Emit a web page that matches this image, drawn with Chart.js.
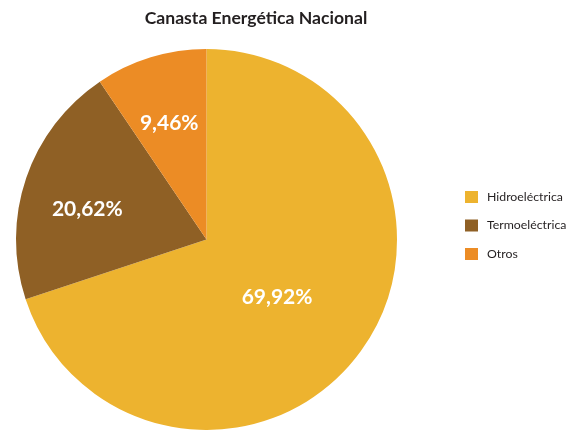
<!DOCTYPE html>
<html>
<head>
<meta charset="utf-8">
<script src="https://cdn.jsdelivr.net/npm/chart.js@4"></script>
<style>
  html, body { margin: 0; padding: 0; background: #ffffff; }
  #wrap { width: 579px; height: 430px; }
</style>
</head>
<body>
<div id="wrap"><canvas id="PieChart" width="579" height="430"></canvas></div>
<script>
// Chart data
const title = 'Canasta Energética Nacional';
const categories = ['Hidroeléctrica', 'Termoeléctrica', 'Otros'];
const shares = [69.92, 20.62, 9.46];
const colors = ['#EDB32F', '#8F6025', '#EC8C25'];

const FONT = 'Lato, "Liberation Sans", sans-serif';

// where each value label sits: fraction of radius, plus a small nudge in px
const labelDepth = [0.47, 0.65, 0.65];
const labelNudge = [[-2, 5], [-2, 10], [-1, 2]];

const fmt = (v) => v.toFixed(2).replace('.', ',') + '%';

// Draws the title, the value labels and the legend on the right
const extrasPlugin = {
  id: 'extras',
  afterDraw(chart) {
    const ctx = chart.ctx;
    const meta = chart.getDatasetMeta(0);
    ctx.save();

    // title
    ctx.fillStyle = '#231F20';
    ctx.font = 'bold 17.6px ' + FONT;
    ctx.textAlign = 'center';
    ctx.textBaseline = 'middle';
    ctx.fillText(title, 256, 18);

    // value labels inside slices
    ctx.fillStyle = '#ffffff';
    ctx.font = 'bold 21px ' + FONT;
    meta.data.forEach((arc, i) => {
      const p = arc.getProps(['x', 'y', 'startAngle', 'endAngle', 'outerRadius'], true);
      const mid = (p.startAngle + p.endAngle) / 2;
      const r = p.outerRadius * labelDepth[i];
      ctx.fillText(fmt(shares[i]),
        p.x + Math.cos(mid) * r + labelNudge[i][0],
        p.y + Math.sin(mid) * r + labelNudge[i][1]);
    });

    // legend
    ctx.font = '12.3px ' + FONT;
    ctx.textAlign = 'left';
    categories.forEach((name, i) => {
      const y = 197 + i * 28.5;
      ctx.fillStyle = colors[i];
      ctx.fillRect(465, y - 6, 13, 12);
      ctx.fillStyle = '#231F20';
      ctx.fillText(name, 487, y);
    });

    ctx.restore();
  },
};

const ctx = document.getElementById('PieChart').getContext('2d');
new Chart(ctx, {
  type: 'pie',
  data: {
    labels: categories,
    datasets: [{
      data: shares,
      backgroundColor: colors,
      borderWidth: 0,
    }],
  },
  options: {
    responsive: false,
    animation: false,
    layout: { padding: { left: 16, right: 182, top: 49, bottom: 0 } },
    plugins: {
      legend: { display: false },
      tooltip: { enabled: false },
      title: { display: false },
    },
  },
  plugins: [extrasPlugin],
});
</script>
</body>
</html>
